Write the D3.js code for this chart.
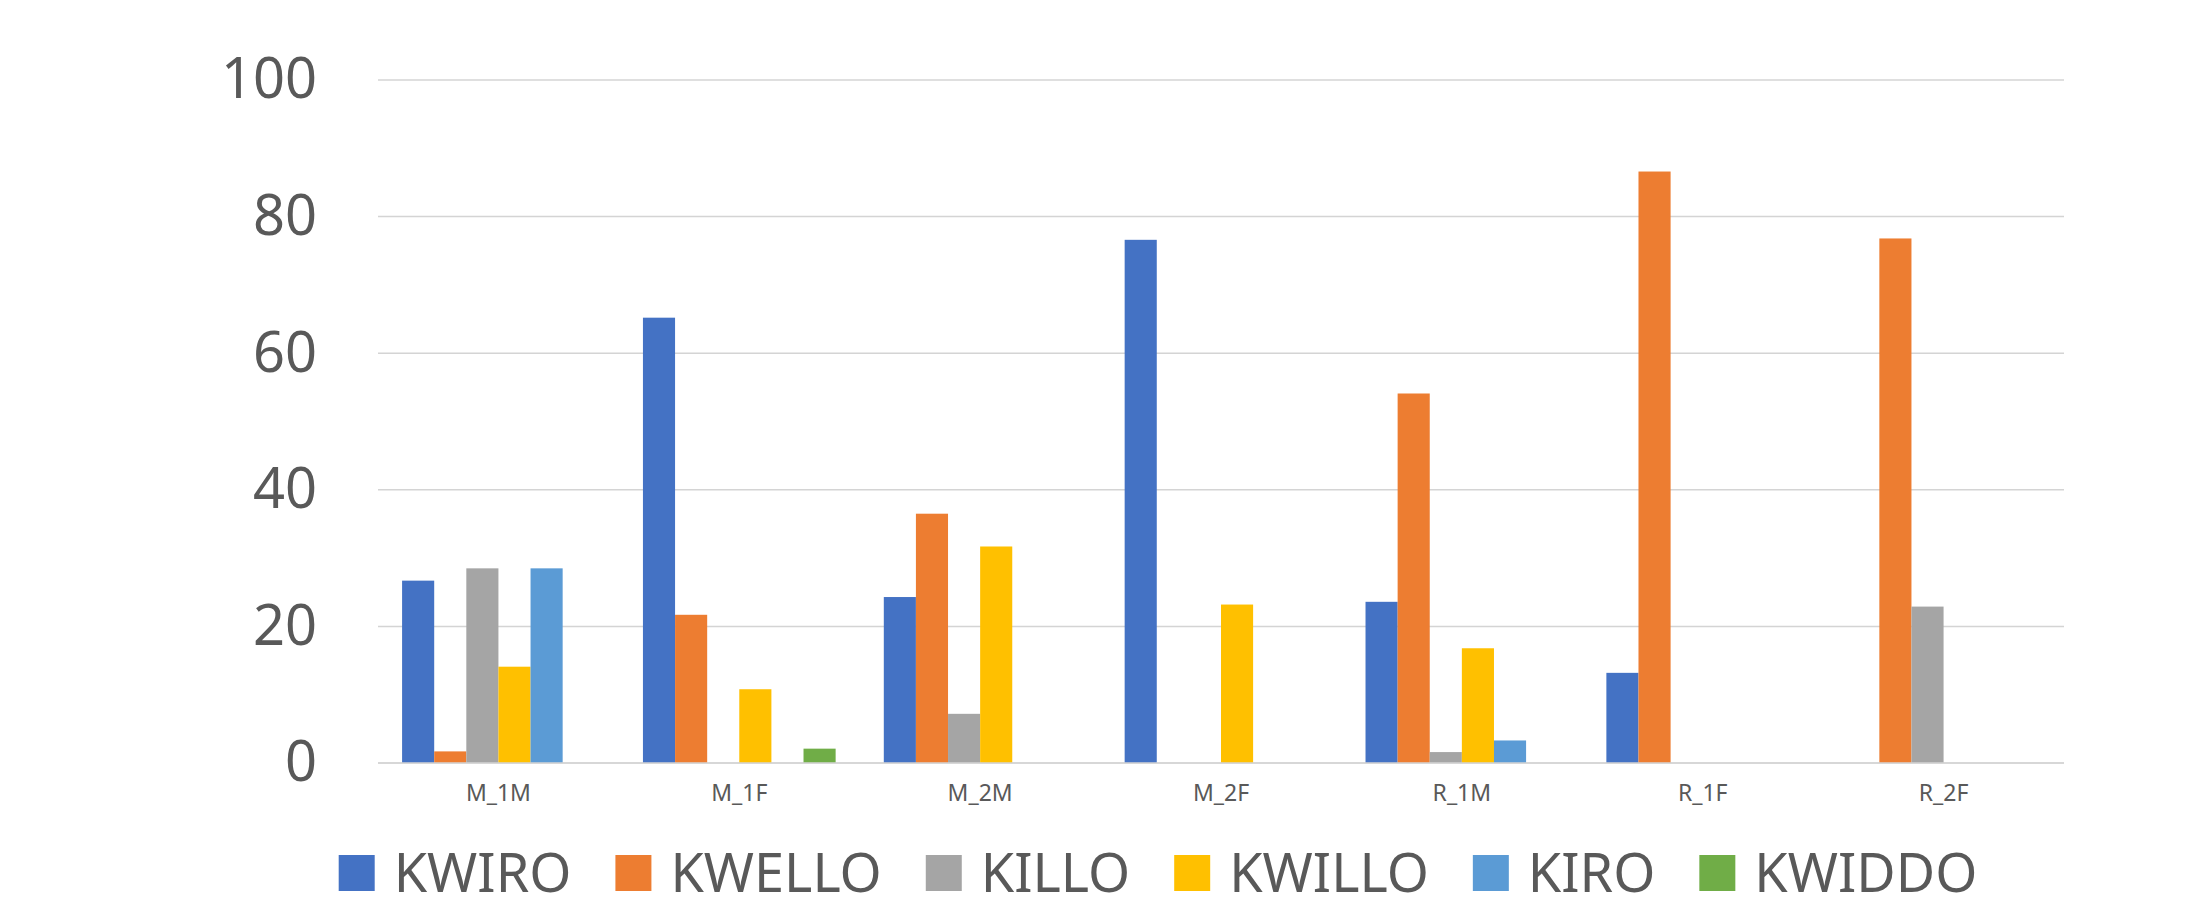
<!DOCTYPE html>
<html>
<head>
<meta charset="utf-8">
<script src="https://cdn.jsdelivr.net/npm/d3@7/dist/d3.min.js"></script>
<style>
  html, body { margin: 0; padding: 0; background: #ffffff; }
  svg { display: block; }
  text { font-family: "Noto Sans", "Open Sans", sans-serif; fill: #595959; }
</style>
</head>
<body>
<svg id="chart" width="2185" height="910"></svg>
<script>
// Groups along the x axis
const categories = ["M_1M", "M_1F", "M_2M", "M_2F", "R_1M", "R_1F", "R_2F"];

// Series names, in legend order
const seriesNames = ["KWIRO", "KWELLO", "KILLO", "KWILLO", "KIRO", "KWIDDO"];
const seriesColors = ["#4472C4", "#ED7D31", "#A5A5A5", "#FFC000", "#5B9BD5", "#70AD47"];

// Values per series, one per category
const KWIRO  = [26.7, 65.2, 24.3, 76.6, 23.6, 13.2, 0];
const KWELLO = [1.7, 21.7, 36.5, 0, 54.1, 86.6, 76.8];
const KILLO  = [28.5, 0, 7.2, 0, 1.6, 0, 22.9];
const KWILLO = [14.1, 10.8, 31.7, 23.2, 16.8, 0, 0];
const KIRO   = [28.5, 0, 0, 0, 3.3, 0, 0];
const KWIDDO = [0, 2.1, 0, 0, 0, 0, 0];

const yTicks = [0, 20, 40, 60, 80, 100];

const seriesValues = [KWIRO, KWELLO, KILLO, KWILLO, KIRO, KWIDDO];

const svg = d3.select("#chart");
const plot = { left: 378, right: 2064, top: 80, bottom: 763 };

const x0 = d3.scaleBand()
  .domain(categories)
  .range([plot.left, plot.right])
  .padding(0);

const x1 = d3.scaleBand()
  .domain(seriesNames)
  .range([0, x0.bandwidth()])
  .paddingInner(0)
  .paddingOuter(0.75);

const y = d3.scaleLinear()
  .domain([0, 100])
  .range([plot.bottom, plot.top]);

// Horizontal gridlines
svg.append("g")
  .selectAll("line")
  .data(yTicks)
  .join("line")
  .attr("x1", plot.left)
  .attr("x2", plot.right)
  .attr("y1", d => y(d))
  .attr("y2", d => y(d))
  .attr("stroke", "#d4d4d4")
  .attr("stroke-width", 1.5);

// Y axis labels
const yAxis = d3.axisLeft(y).tickValues(yTicks).tickSize(0).tickPadding(61);
const yG = svg.append("g")
  .attr("transform", `translate(${plot.left},0)`)
  .call(yAxis);
yG.select(".domain").remove();
yG.selectAll("text")
  .attr("font-size", 56)
  .attr("fill", "#595959")
  .style("font-family", "'Noto Sans', 'Open Sans', sans-serif");

// Bars
const rows = categories.map((c, i) => ({
  cat: c,
  vals: seriesNames.map((s, j) => ({ name: s, value: seriesValues[j][i], color: seriesColors[j] }))
}));

svg.append("g")
  .selectAll("g")
  .data(rows)
  .join("g")
  .attr("transform", d => `translate(${x0(d.cat)},0)`)
  .selectAll("rect")
  .data(d => d.vals.filter(v => v.value > 0))
  .join("rect")
  .attr("x", d => x1(d.name))
  .attr("width", x1.bandwidth())
  .attr("y", d => y(d.value))
  .attr("height", d => y(0) - y(d.value))
  .attr("fill", d => d.color);

// Baseline
svg.append("line")
  .attr("x1", plot.left).attr("x2", plot.right)
  .attr("y1", y(0)).attr("y2", y(0))
  .attr("stroke", "#d4d4d4").attr("stroke-width", 1.7);

// X axis category labels
const xAxis = d3.axisBottom(x0).tickSize(0).tickPadding(22);
const xG = svg.append("g")
  .attr("transform", `translate(0,${plot.bottom})`)
  .call(xAxis);
xG.select(".domain").remove();
xG.selectAll("text")
  .attr("font-size", 23)
  .attr("fill", "#595959")
  .style("font-family", "'Noto Sans', 'Open Sans', sans-serif");

// Legend
const legend = svg.append("g");
const sw = 36, gapText = 19, gapItem = 44, legendMidY = 873;
const items = legend.selectAll("g")
  .data(seriesNames.map((s, i) => ({ name: s, color: seriesColors[i] })))
  .join("g");
items.append("rect")
  .attr("width", sw).attr("height", sw)
  .attr("y", legendMidY - sw / 2)
  .attr("fill", d => d.color);
items.append("text")
  .attr("x", sw + gapText)
  .attr("y", legendMidY)
  .attr("dy", "0.36em")
  .attr("font-size", 54)
  .text(d => d.name);

let cursor = 0;
const widths = [];
items.each(function () {
  const w = sw + gapText + d3.select(this).select("text").node().getComputedTextLength();
  widths.push(w);
});
const total = d3.sum(widths) + gapItem * (widths.length - 1);
const legendCenter = 1158;
cursor = legendCenter - total / 2;
items.attr("transform", (d, i) => {
  const t = `translate(${cursor},0)`;
  cursor += widths[i] + gapItem;
  return t;
});
</script>
</body>
</html>
